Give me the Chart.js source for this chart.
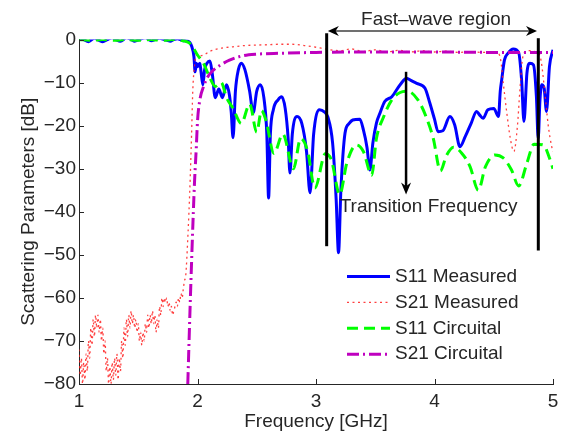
<!DOCTYPE html>
<html>
<head>
<meta charset="utf-8">
<script src="https://cdn.jsdelivr.net/npm/chart.js@4.4.1/dist/chart.umd.min.js"></script>
<style>
  html, body { margin: 0; padding: 0; background: #fff; }
  canvas { display: block; }
</style>
</head>
<body>
<canvas id="sparams" width="567" height="431"></canvas>
<script>
// values (GHz / dB)
const s11MeasFreq = [1.00, 1.04, 1.08, 1.13, 1.17, 1.20, 1.24, 1.28, 1.31, 1.35, 1.40, 1.44, 1.47, 1.51, 1.56, 1.61, 1.65, 1.68, 1.72, 1.77, 1.80, 1.83, 1.88, 1.92, 1.95, 1.97, 1.98, 1.99, 2.00, 2.02, 2.03, 2.045, 2.06, 2.08, 2.105, 2.125, 2.15, 2.18, 2.21, 2.245, 2.27, 2.285, 2.30, 2.32, 2.345, 2.37, 2.40, 2.44, 2.47, 2.50, 2.53, 2.56, 2.585, 2.60, 2.615, 2.64, 2.68, 2.71, 2.74, 2.765, 2.78, 2.80, 2.84, 2.88, 2.92, 2.95, 2.98, 3.03, 3.07, 3.10, 3.14, 3.17, 3.19, 3.21, 3.245, 3.28, 3.31, 3.37, 3.40, 3.43, 3.455, 3.48, 3.51, 3.54, 3.58, 3.64, 3.71, 3.765, 3.80, 3.85, 3.92, 3.96, 4.00, 4.03, 4.07, 4.13, 4.17, 4.215, 4.26, 4.31, 4.355, 4.38, 4.41, 4.45, 4.50, 4.54, 4.555, 4.567, 4.59, 4.62, 4.665, 4.71, 4.735, 4.755, 4.78, 4.805, 4.835, 4.86, 4.875, 4.89, 4.905, 4.925, 4.945, 4.97, 5.00];
const s11MeasDb = [0.4, 0.0, -0.5, 0.3, -0.2, -0.5, 0.0, 0.4, 0.0, -0.4, 0.4, 0.0, -0.4, 0.0, 0.4, -0.3, 0.1, 0.3, 0.0, -0.4, 0.0, 0.2, -0.3, -0.4, -1.5, -4, -7.5, -5.5, -6.3, -5.5, -7.5, -10.5, -7, -5.5, -5, -8, -13.5, -11.5, -13.5, -10.5, -13, -17, -22.8, -12, -7, -5.5, -7, -12, -17, -12, -10.5, -13.5, -22, -36.8, -22, -16.3, -14, -13.3, -16, -23, -31, -22, -17.9, -19.5, -26, -35.6, -22, -16.3, -16.8, -18, -24, -37, -49.5, -35, -21.7, -19.5, -18.7, -18.5, -21, -25, -30.3, -24, -19.4, -17.1, -14.4, -13.3, -10.5, -9.0, -9.5, -10.2, -11.3, -14.7, -18.5, -21.4, -21.2, -17.9, -19.8, -24.9, -22.5, -19.4, -16.7, -17.5, -18.3, -16.3, -16.0, -17.9, -12, -9.4, -4.8, -3.2, -2.2, -3.0, -9.4, -19, -7.8, -5.5, -5.9, -13.3, -23, -14, -10.5, -11.3, -16.7, -6.3, -2.4];

const s21MeasFreq = [1.00, 1.01, 1.02, 1.03, 1.04, 1.05, 1.06, 1.07, 1.08, 1.09, 1.10, 1.11, 1.12, 1.13, 1.14, 1.15, 1.16, 1.17, 1.18, 1.19, 1.20, 1.21, 1.22, 1.23, 1.24, 1.25, 1.26, 1.27, 1.28, 1.29, 1.30, 1.31, 1.32, 1.33, 1.34, 1.35, 1.36, 1.37, 1.38, 1.39, 1.40, 1.41, 1.42, 1.43, 1.44, 1.45, 1.46, 1.47, 1.48, 1.49, 1.50, 1.51, 1.52, 1.53, 1.54, 1.55, 1.56, 1.57, 1.58, 1.59, 1.60, 1.61, 1.62, 1.63, 1.64, 1.65, 1.66, 1.67, 1.68, 1.69, 1.70, 1.71, 1.72, 1.73, 1.74, 1.75, 1.76, 1.77, 1.78, 1.79, 1.80, 1.81, 1.82, 1.83, 1.84, 1.85, 1.86, 1.87, 1.88, 1.89, 1.90, 1.92, 1.935, 1.95, 1.96, 1.975, 1.99, 2.02, 2.06, 2.10, 2.15, 2.20, 2.30, 2.40, 2.50, 2.60, 2.70, 2.80, 2.90, 3.00, 3.10, 3.20, 3.30, 3.40, 3.50, 3.60, 3.70, 3.80, 3.90, 4.00, 4.10, 4.20, 4.30, 4.40, 4.50, 4.54, 4.56, 4.58, 4.61, 4.64, 4.67, 4.70, 4.72, 4.74, 4.76, 4.80, 4.85, 4.88, 4.90, 4.93, 4.96, 4.99, 5.00];
const s21MeasDb = [-72, -78, -74, -80, -75, -79, -73, -77, -70, -74, -67, -71, -65, -69, -64, -67, -64, -68, -65, -70, -67, -73, -70, -77, -74, -80, -76, -80, -75, -79, -74, -78, -73, -79, -74, -77, -70, -74, -67, -71, -65, -69, -64, -67, -63, -66, -64, -67, -65, -68, -66, -70, -68, -71, -68, -70, -66, -68, -64, -67, -64, -66, -63, -66, -64, -68, -65, -67, -62, -64, -60, -62, -60, -61, -60, -62, -61, -63, -62, -64, -63, -62, -61, -62, -60, -61, -59, -60, -58, -56, -55, -45, -35, -22, -12, -6, -3.5, -3.8, -3.5, -2.8, -2.3, -2.0, -1.7, -1.4, -1.3, -1.2, -1.1, -1.1, -1.4, -1.8, -2.3, -2.6, -2.2, -2.8, -2.4, -2.9, -2.5, -2.9, -2.6, -2.9, -2.7, -3.0, -2.8, -3.0, -2.9, -3.2, -5, -10, -17, -23, -26, -20, -12, -5, -3, -2.6, -2.8, -3.2, -5, -12, -20, -25, -26];

const s11CircFreq = [1.00, 1.10, 1.20, 1.30, 1.40, 1.50, 1.60, 1.70, 1.80, 1.88, 1.93, 1.97, 2.00, 2.05, 2.10, 2.15, 2.20, 2.245, 2.30, 2.37, 2.44, 2.50, 2.54, 2.58, 2.645, 2.72, 2.81, 2.87, 2.93, 2.99, 3.08, 3.13, 3.20, 3.26, 3.34, 3.40, 3.47, 3.51, 3.57, 3.64, 3.71, 3.77, 3.86, 3.93, 3.99, 4.05, 4.10, 4.16, 4.23, 4.30, 4.37, 4.43, 4.51, 4.58, 4.65, 4.71, 4.78, 4.84, 4.92, 4.97, 5.00];
const s11CircDb = [0, -0.2, 0, -0.2, 0, -0.2, 0, -0.2, 0, -0.3, -0.8, -2.2, -3.6, -5.5, -8.6, -10.9, -10, -13.5, -16, -19.5, -15, -21.5, -16.5, -19, -26.5, -22, -30, -23, -26, -34.5, -26.5, -28, -36, -28.7, -24.5, -26, -31.5, -23, -18, -14, -12.3, -12, -14, -18, -23, -30.5, -27, -25, -26.4, -29.5, -35, -29.5, -26.8, -27.5, -30.3, -34, -28.7, -24.3, -24.5, -27.5, -30];

const s21CircFreq = [1.918, 1.94, 1.965, 1.975, 1.99, 2.00, 2.02, 2.05, 2.08, 2.12, 2.19, 2.27, 2.38, 2.50, 2.70, 3.00, 3.50, 4.00, 4.50, 5.00];
const s21CircDb = [-80, -60, -40, -33, -25, -19, -14, -11, -9, -7.5, -6, -4.8, -3.8, -3.4, -3.2, -3.0, -2.9, -2.9, -3.0, -3.0];

const xTicks = [1, 2, 3, 4, 5];
const yTicks = [-80, -70, -60, -50, -40, -30, -20, -10, 0];

// annotations, in data units
const regionLines = [
  { x: 3.09, top: 1.45, bottom: -48 },
  { x: 4.876, top: 0.3, bottom: -49 },
];
const regionArrow = { from: 3.10, to: 4.865, y: 2.0, label: "Fast\u2013wave region", labelX: 4.013, labelY: 3.36 };
const transitionArrow = { x: 3.76, top: -7.5, bottom: -36, label: "Transition Frequency", labelX: 3.95, labelY: -40 };

const textColor = "#262626";
const fontFamily = "'Liberation Sans', Arial, Helvetica, sans-serif";
Chart.defaults.font.family = fontFamily;
Chart.defaults.font.size = 19;
Chart.defaults.color = textColor;

const toPoints = (xs, ys) => xs.map((x, i) => ({ x: x, y: ys[i] }));

const drawHead = (ctx, tipX, tipY, angle, len, half) => {
  ctx.save();
  ctx.translate(tipX, tipY);
  ctx.rotate(angle);
  ctx.beginPath();
  ctx.moveTo(0, 0);
  ctx.lineTo(-len, -half);
  ctx.lineTo(-len * 0.7, 0);
  ctx.lineTo(-len, half);
  ctx.closePath();
  ctx.fill();
  ctx.restore();
};

const decorations = {
  id: "decorations",
  afterDatasetsDraw(chart) {
    const { ctx, chartArea, scales } = chart;
    const x = scales.x;
    const y = scales.y;
    ctx.save();

    // inward tick marks
    ctx.strokeStyle = textColor;
    ctx.lineWidth = 1;
    ctx.beginPath();
    xTicks.forEach((t) => {
      const px = Math.round(x.getPixelForValue(t)) + 0.5;
      ctx.moveTo(px, chartArea.bottom);
      ctx.lineTo(px, chartArea.bottom - 5);
    });
    yTicks.forEach((t) => {
      const py = Math.round(y.getPixelForValue(t)) + 0.5;
      ctx.moveTo(chartArea.left, py);
      ctx.lineTo(chartArea.left + 5, py);
    });
    ctx.stroke();

    // fast-wave region boundaries
    ctx.strokeStyle = "#000";
    ctx.lineWidth = 3;
    regionLines.forEach((l) => {
      const px = x.getPixelForValue(l.x);
      ctx.beginPath();
      ctx.moveTo(px, y.getPixelForValue(l.top));
      ctx.lineTo(px, y.getPixelForValue(l.bottom));
      ctx.stroke();
    });

    // double arrow over the region
    const ax0 = x.getPixelForValue(regionArrow.from);
    const ax1 = x.getPixelForValue(regionArrow.to);
    const ay = y.getPixelForValue(regionArrow.y);
    ctx.strokeStyle = "#404040";
    ctx.lineWidth = 1.5;
    ctx.beginPath();
    ctx.moveTo(ax0 + 6, ay);
    ctx.lineTo(ax1 - 6, ay);
    ctx.stroke();
    ctx.fillStyle = "#000";
    drawHead(ctx, ax0, ay, Math.PI, 11, 5);
    drawHead(ctx, ax1, ay, 0, 11, 5);

    // transition frequency arrow
    const tx = x.getPixelForValue(transitionArrow.x);
    const ty0 = y.getPixelForValue(transitionArrow.top);
    const ty1 = y.getPixelForValue(transitionArrow.bottom);
    ctx.strokeStyle = "#000";
    ctx.lineWidth = 2.5;
    ctx.beginPath();
    ctx.moveTo(tx, ty0);
    ctx.lineTo(tx, ty1 - 8);
    ctx.stroke();
    drawHead(ctx, tx, ty1, Math.PI / 2, 12, 5);

    // texts
    ctx.fillStyle = textColor;
    ctx.font = "19px " + fontFamily;
    ctx.textAlign = "center";
    ctx.textBaseline = "alphabetic";
    ctx.fillText(regionArrow.label, x.getPixelForValue(regionArrow.labelX), y.getPixelForValue(regionArrow.labelY));
    ctx.fillText(transitionArrow.label, x.getPixelForValue(transitionArrow.labelX), y.getPixelForValue(transitionArrow.labelY));

    // legend (no box)
    const lx0 = chartArea.left + 268;
    const lx1 = lx0 + 43;
    const ly0 = chartArea.top + 237;
    ctx.textAlign = "left";
    ctx.textBaseline = "middle";
    chart.data.datasets.forEach((ds, i) => {
      const ly = ly0 + i * 25.9;
      ctx.save();
      ctx.strokeStyle = ds.borderColor;
      ctx.lineWidth = ds.borderWidth;
      ctx.setLineDash(ds.borderDash || []);
      ctx.beginPath();
      ctx.moveTo(lx0, ly);
      ctx.lineTo(lx1, ly);
      ctx.stroke();
      ctx.restore();
      ctx.fillStyle = textColor;
      ctx.fillText(ds.label, lx1 + 5, ly);
    });

    ctx.restore();
  },
};

const ctx = document.getElementById("sparams").getContext("2d");

new Chart(ctx, {
  type: "line",
  data: {
    datasets: [
      {
        label: "S11 Measured",
        data: toPoints(s11MeasFreq, s11MeasDb),
        borderColor: "#0000ff",
        borderWidth: 3,
        order: 4,
      },
      {
        label: "S21 Measured",
        data: toPoints(s21MeasFreq, s21MeasDb),
        borderColor: "rgba(255, 30, 30, 0.85)",
        borderWidth: 1.3,
        borderDash: [2, 3.5],
        order: 3,
      },
      {
        label: "S11 Circuital",
        data: toPoints(s11CircFreq, s11CircDb),
        borderColor: "#00ff00",
        borderWidth: 3,
        borderDash: [11, 6],
        order: 2,
      },
      {
        label: "S21 Circuital",
        data: toPoints(s21CircFreq, s21CircDb),
        borderColor: "#bf00bf",
        borderWidth: 3,
        borderDash: [12, 4, 2, 4],
        order: 1,
      },
    ],
  },
  options: {
    responsive: false,
    animation: false,
    layout: {
      padding: { top: 39.5, right: 14, left: 0, bottom: 0 },
    },
    elements: {
      point: { radius: 0 },
      line: { tension: 0.3, cubicInterpolationMode: "monotone", borderCapStyle: "butt" },
    },
    plugins: {
      legend: { display: false },
      tooltip: { enabled: false },
    },
    scales: {
      x: {
        type: "linear",
        min: 1,
        max: 5,
        afterBuildTicks: (scale) => {
          scale.ticks = xTicks.map((v) => ({ value: v }));
        },
        afterFit: (scale) => {
          scale.height = 47;
        },
        grid: { display: false, drawTicks: false },
        border: { display: true, color: textColor, width: 1 },
        ticks: { padding: 6, font: { size: 19, lineHeight: 1.2 }, maxRotation: 0 },
        title: {
          display: true,
          text: "Frequency [GHz]",
          font: { size: 19, lineHeight: 1 },
          padding: 0,
        },
      },
      y: {
        type: "linear",
        min: -80,
        max: 0,
        afterBuildTicks: (scale) => {
          scale.ticks = yTicks.map((v) => ({ value: v }));
        },
        afterFit: (scale) => {
          scale.width = 79;
        },
        grid: { display: false, drawTicks: false },
        border: { display: true, color: textColor, width: 1 },
        ticks: {
          padding: 3,
          font: { size: 19 },
          callback: (v) => (v < 0 ? "\u2212" + Math.abs(v) : String(v)),
        },
        title: {
          display: true,
          text: "Scattering Parameters [dB]",
          font: { size: 19, lineHeight: 1 },
          padding: { top: 19, bottom: 0 },
        },
      },
    },
  },
  plugins: [decorations],
});
</script>
</body>
</html>
